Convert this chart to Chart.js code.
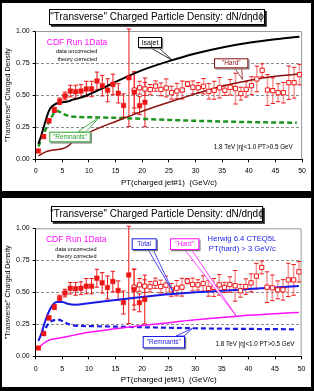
<!DOCTYPE html>
<html>
<head>
<meta charset="utf-8">
<script src="https://cdn.jsdelivr.net/npm/chart.js@4.4.0/dist/chart.umd.min.js"></script>
<style>
html, body { margin: 0; padding: 0; background: #000; width: 314px; height: 391px; overflow: hidden; }
canvas { position: absolute; background: #fff; }
#top { left: 2px; top: 3px; }
#bottom { left: 2px; top: 198px; }
</style>
</head>
<body>
<canvas id="top" width="309" height="188"></canvas>
<canvas id="bottom" width="309" height="189"></canvas>
<script>
const FONT = '"Liberation Sans", Arial, Helvetica, sans-serif';

// CDF Run 1 data, "transverse" region
const filledX = [0.5, 1.5, 2.5, 3.5, 4.5, 5.5, 6.5, 7.5, 8.5, 9.5, 10.5, 11.5, 12.5, 13.5, 14.5, 15.5, 16.5, 17.5, 18.5, 19.5, 20.5];
const filledY = [0.065, 0.177, 0.30, 0.385, 0.452, 0.494, 0.532, 0.527, 0.532, 0.548, 0.548, 0.61, 0.574, 0.538, 0.584, 0.514, 0.42, 0.636, 0.522, 0.418, 0.444];
const filledErr = [0.01, 0.012, 0.015, 0.02, 0.025, 0.03, 0.045, 0.05, 0.05, 0.06, 0.06, 0.07, 0.08, 0.09, 0.08, 0.075, 0.09, 0.38, 0.16, 0.07, 0.19];

const openX = [18.5, 19.5, 20.5, 21.5, 22.5, 23.5, 24.5, 25.5, 26.5, 27.5, 28.5, 29.5, 30.5, 31.5, 32.5, 33.5, 34.5, 35.5, 36.5, 37.5, 38.5, 39.5, 40.5, 41.5, 42.5, 43.5, 44.5, 45.5, 46.5, 47.5, 48.5, 49.5];
const openY = [0.54, 0.558, 0.548, 0.543, 0.571, 0.545, 0.556, 0.519, 0.532, 0.54, 0.587, 0.561, 0.558, 0.569, 0.53, 0.538, 0.558, 0.538, 0.561, 0.551, 0.512, 0.545, 0.574, 0.626, 0.694, 0.54, 0.535, 0.519, 0.519, 0.597, 0.597, 0.66];
const openErr = [0.14, 0.05, 0.05, 0.04, 0.04, 0.05, 0.07, 0.05, 0.06, 0.07, 0.02, 0.05, 0.04, 0.06, 0.06, 0.07, 0.08, 0.04, 0.06, 0.12, 0.05, 0.06, 0.07, 0.1, 0.05, 0.12, 0.1, 0.07, 0.08, 0.13, 0.12, 0.08];

// Isajet (top panel)
const isajetX = [0.5, 1, 1.5, 2, 2.5, 3, 4, 5, 6, 7, 8, 10, 12.5, 15, 20, 25, 30, 35, 40, 45, 49.5];
const isajetY = [0.12, 0.18, 0.25, 0.32, 0.38, 0.41, 0.437, 0.445, 0.45, 0.465, 0.475, 0.505, 0.553, 0.603, 0.695, 0.765, 0.825, 0.872, 0.908, 0.935, 0.955];
const isaHardX = [0.5, 2, 3, 5, 6, 7, 8, 10, 12.5, 15, 20, 25, 30, 35, 40, 45, 49.5];
const isaHardY = [0.026, 0.06, 0.07, 0.082, 0.1, 0.14, 0.17, 0.21, 0.255, 0.295, 0.375, 0.445, 0.51, 0.57, 0.615, 0.648, 0.665];
const isaRemX = [0.5, 1, 1.5, 2, 2.5, 3, 3.5, 4, 4.5, 5.5, 6.5, 8, 10, 15, 20, 25, 30, 35, 40, 45, 49];
const isaRemY = [0.1, 0.15, 0.2, 0.245, 0.29, 0.33, 0.365, 0.376, 0.37, 0.348, 0.335, 0.33, 0.328, 0.323, 0.315, 0.307, 0.3, 0.295, 0.29, 0.287, 0.285];

// Herwig 6.4 (bottom panel)
const hwTotalX = [0.5, 1, 2, 3, 4, 5, 6, 7.5, 10, 15, 20, 25, 30, 35, 40, 45, 49.5];
const hwTotalY = [0.12, 0.17, 0.3, 0.39, 0.425, 0.425, 0.41, 0.403, 0.415, 0.44, 0.463, 0.485, 0.5, 0.512, 0.525, 0.538, 0.55];
const hwHardX = [0.5, 1, 2, 3, 4.5, 6, 8, 10, 15, 20, 25, 30, 35, 40, 45, 49.5];
const hwHardY = [0.06, 0.085, 0.115, 0.133, 0.143, 0.155, 0.172, 0.188, 0.215, 0.24, 0.263, 0.285, 0.303, 0.32, 0.333, 0.343];
const hwRemX = [1.2, 1.5, 2, 2.5, 3, 3.5, 4, 4.5, 5, 6, 7, 8, 10, 15, 20, 25, 30, 35, 40, 45, 49];
const hwRemY = [0.165, 0.19, 0.23, 0.26, 0.275, 0.283, 0.287, 0.285, 0.275, 0.255, 0.242, 0.238, 0.236, 0.232, 0.227, 0.223, 0.219, 0.216, 0.214, 0.212, 0.211];

const yTicks = [0, 0.25, 0.5, 0.75, 1];

const pts = (xs, ys) => xs.map((x, i) => ({ x: x, y: ys[i] }));

const RED = '#ee1515';

function dataSets() {
    return [
        { data: pts(filledX, filledY), pointStyle: 'rect', pointRadius: 3.2, backgroundColor: RED, borderColor: RED, borderWidth: 0.5 },
        { data: pts(openX, openY), pointStyle: 'rect', pointRadius: 3, backgroundColor: '#fff', borderColor: RED, borderWidth: 1 }
    ];
}

function curve(xs, ys, color, width, dash) {
    return {
        data: pts(xs, ys), showLine: true, pointRadius: 0, borderColor: color, borderWidth: width,
        borderDash: dash || [], cubicInterpolationMode: 'monotone', fill: false
    };
}

const errorBars = {
    id: 'errorBars',
    beforeDatasetsDraw(chart) {
        const { ctx, scales: { x, y } } = chart;
        const draw = (xs, ys, errs, lineColor, lineWidth) => {
            xs.forEach((v, i) => {
                const px = x.getPixelForValue(v);
                const top = y.getPixelForValue(ys[i] + errs[i]);
                const bot = y.getPixelForValue(ys[i] - errs[i]);
                ctx.strokeStyle = lineColor;
                ctx.lineWidth = lineWidth;
                ctx.beginPath(); ctx.moveTo(px, top); ctx.lineTo(px, bot); ctx.stroke();
                ctx.strokeStyle = RED;
                ctx.lineWidth = 1;
                ctx.beginPath();
                ctx.moveTo(px - 2.2, top); ctx.lineTo(px + 2.2, top);
                ctx.moveTo(px - 2.2, bot); ctx.lineTo(px + 2.2, bot);
                ctx.stroke();
            });
        };
        ctx.save();
        // plot frame, top and right
        const a = chart.chartArea;
        ctx.strokeStyle = '#999';
        ctx.lineWidth = 1;
        ctx.beginPath();
        ctx.moveTo(a.left, a.top + 0.5); ctx.lineTo(a.right - 0.5, a.top + 0.5); ctx.lineTo(a.right - 0.5, a.bottom);
        ctx.stroke();
        draw(openX, openY, openErr, 'rgba(240,90,90,0.6)', 1.6);
        draw(filledX, filledY, filledErr, RED, 1);
        ctx.restore();
    }
};

function notesPlugin(notes) {
    return {
        id: 'notes',
        afterDraw(chart) {
            const ctx = chart.ctx, xs = chart.scales.x, ys = chart.scales.y;
            ctx.save();
            ctx.textAlign = 'center';
            ctx.textBaseline = 'middle';
            notes.forEach(n => {
                if (n.box) {
                    const [x0, y0, x1, y1] = n.box;
                    if (n.target) {
                        const tx = xs.getPixelForValue(n.target[0]);
                        const ty = ys.getPixelForValue(n.target[1]);
                        ctx.beginPath();
                        ctx.moveTo(n.base[0], n.base[1]);
                        ctx.lineTo(tx, ty);
                        ctx.lineTo(n.base[2], n.base[3]);
                        ctx.closePath();
                        ctx.fillStyle = '#fff';
                        ctx.fill();
                        ctx.strokeStyle = n.color;
                        ctx.lineWidth = 0.8;
                        ctx.stroke();
                    }
                    const sh = n.shadow || 1.2;
                    ctx.fillStyle = n.shadowColor || '#777';
                    ctx.fillRect(x0 + sh, y0 + sh, x1 - x0, y1 - y0);
                    ctx.fillStyle = '#fff';
                    ctx.fillRect(x0, y0, x1 - x0, y1 - y0);
                    ctx.strokeStyle = n.color;
                    ctx.lineWidth = 1;
                    ctx.strokeRect(x0 + 0.5, y0 + 0.5, x1 - x0 - 1, y1 - y0 - 1);
                }
                ctx.font = n.size + 'px ' + FONT;
                ctx.fillStyle = n.textColor || n.color;
                ctx.fillText(n.text, n.x, n.y);
            });
            ctx.restore();
        }
    };
}

function scales(yWidth, xHeight, tickPad, titlePad) {
    return {
        x: {
            type: 'linear', min: 0, max: 50,
            ticks: { stepSize: 5, color: '#000', font: { family: FONT, size: 7 }, padding: tickPad, maxRotation: 0 },
            grid: { drawOnChartArea: false, drawTicks: true, tickLength: 3, tickColor: '#000' },
            border: { color: '#000', width: 1 },
            title: { display: true, text: 'PT(charged jet#1)  (GeV/c)', color: '#000', font: { family: FONT, size: 8 }, padding: { top: 0, bottom: titlePad } },
            afterFit(s) { s.height = xHeight; }
        },
        y: {
            type: 'linear', min: 0, max: 1,
            afterBuildTicks(s) { s.ticks = yTicks.map(v => ({ value: v })); },
            ticks: { color: '#000', font: { family: FONT, size: 7 }, padding: 3, callback: v => v.toFixed(2) },
            grid: {
                color: c => (c.tick && c.tick.value > 0 && c.tick.value < 1) ? '#8c8c8c' : 'rgba(0,0,0,0)',
                lineWidth: 1, tickLength: 3, tickColor: '#000'
            },
            border: { color: '#000', width: 1, dash: [3, 2] },
            title: { display: true, text: '"Transverse" Charged Density', color: '#000', font: { family: FONT, size: 7 }, padding: { top: 2, bottom: 0 } },
            afterFit(s) { s.width = yWidth; }
        }
    };
}

function baseOptions(padTop, xHeight, tickPad, titlePad) {
    return {
        responsive: false,
        animation: false,
        devicePixelRatio: 1,
        events: [],
        layout: { padding: { left: 0, right: 7.7, top: padTop, bottom: 0 } },
        plugins: { legend: { display: false }, tooltip: { enabled: false } },
        scales: scales(33.7, xHeight, tickPad, titlePad)
    };
}

const TITLE = '"Transverse" Charged Particle Density: dN/dηdϕ';

// top panel: Isajet
new Chart(document.getElementById('top'), {
    type: 'scatter',
    data: {
        datasets: dataSets().concat([
            curve(isajetX, isajetY, '#000', 2),
            curve(isaHardX, isaHardY, '#8b1010', 1.5),
            curve(isaRemX, isaRemY, '#1e961e', 2.5, [5, 3])
        ])
    },
    options: baseOptions(28, 31.7, 5, 3),
    plugins: [errorBars, notesPlugin([
        { box: [47, 6, 263, 22], shadow: 1.8, shadowColor: '#222', color: '#000', text: TITLE, x: 155, y: 14.5, size: 10 },
        { text: 'CDF Run 1Data', x: 75, y: 40, size: 8.5, color: '#ff10ff' },
        { text: 'data uncorrected', x: 74.7, y: 48.7, size: 5.5, color: '#000' },
        { text: 'theory corrected', x: 75.3, y: 56, size: 5.5, color: '#000' },
        { box: [136, 34, 160, 45], color: '#000', text: 'Isajet', x: 148, y: 39.8, size: 7, base: [149, 45, 157, 45], target: [25.7, 0.77] },
        { box: [212, 55.3, 246.3, 65.3], color: '#8b1010', text: '"Hard"', x: 229.2, y: 60.5, size: 6.5, base: [233, 65.3, 239.7, 65.3], target: [38.8, 0.622] },
        { box: [47.3, 128.7, 88.7, 139.3], color: '#2aa02a', text: '"Remnants"', x: 68, y: 134.2, size: 6.5, base: [76, 128.7, 84, 128.7], target: [12, 0.33] },
        { text: '1.8 TeV |η|<1.0 PT>0.5 GeV', x: 251.3, y: 144.5, size: 6.3, color: '#000' }
    ])]
});

// bottom panel: Herwig
new Chart(document.getElementById('bottom'), {
    type: 'scatter',
    data: {
        datasets: dataSets().concat([
            curve(hwTotalX, hwTotalY, '#1a1ae6', 2),
            curve(hwHardX, hwHardY, '#ff10ff', 1.5),
            curve(hwRemX, hwRemY, '#1a1ae6', 2.2, [5, 3])
        ])
    },
    options: baseOptions(30.3, 30.7, 5.5, 2.2),
    plugins: [errorBars, notesPlugin([
        { box: [49, 8, 261, 24], shadow: 1.8, shadowColor: '#222', color: '#000', text: TITLE, x: 155, y: 16.5, size: 10 },
        { text: 'CDF Run 1Data', x: 74.2, y: 41.5, size: 8.5, color: '#ff10ff' },
        { text: 'data uncorrected', x: 74, y: 51, size: 5.5, color: '#000' },
        { text: 'theory corrected', x: 74.6, y: 58.7, size: 5.5, color: '#000' },
        { box: [129.7, 40.3, 154.7, 52], color: '#1a1ae6', text: 'Total', x: 142.2, y: 46.3, size: 6.5, base: [146.3, 52, 151.3, 52], target: [26, 0.49] },
        { box: [168, 40.3, 197.3, 52], color: '#ff10ff', text: '"Hard"', x: 182.6, y: 46.3, size: 6.5, base: [183, 52, 189.7, 52], target: [37.7, 0.315] },
        { text: 'Herwig 6.4 CTEQ5L', x: 240, y: 41.3, size: 7.7, color: '#1a1ae6' },
        { text: 'PT(hard) > 3 GeV/c', x: 240.3, y: 51, size: 7.7, color: '#1a1ae6' },
        { box: [140.7, 138, 183, 150.3], color: '#1a1ae6', text: '"Remnants"', x: 161.8, y: 144.2, size: 6.5, base: [174, 138, 182, 138], target: [29.5, 0.219] },
        { text: '1.8 TeV |η|<1.0 PT>0.5 GeV', x: 253, y: 146.3, size: 6.3, color: '#000' }
    ])]
});
</script>
</body>
</html>
